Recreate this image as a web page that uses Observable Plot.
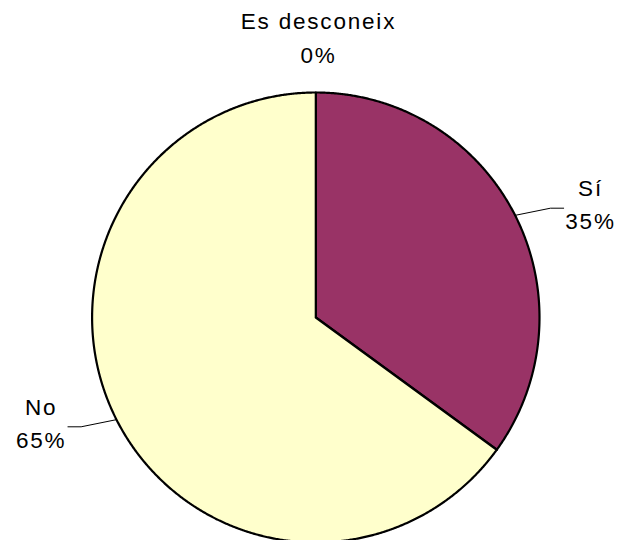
<!DOCTYPE html>
<html>
<head>
<meta charset="utf-8">
<script src="https://cdn.jsdelivr.net/npm/d3@7"></script>
<script src="https://cdn.jsdelivr.net/npm/@observablehq/plot@0.6"></script>
<style>
  html, body { margin: 0; padding: 0; background: #fff; }
</style>
</head>
<body>
<div id="chart"></div>
<script>
const categories = ["Sí", "No", "Es desconeix"];
const values = [35, 65, 0];
const percentLabels = ["35%", "65%", "0%"];
const colors = ["#993366", "#FFFFCC", "#CCFFFF"];

const W = 621, H = 540;
const cx = 315.3, cy = 317, rx = 223.7, ry = 225;

const arcs = d3.pie().sort(null).value(d => d)(values);

// wedge outlines
const wedgePts = [];
arcs.forEach((a, i) => {
  if (a.endAngle - a.startAngle <= 0) return;
  const cat = categories[i];
  wedgePts.push({cat, x: 0, y: 0});
  const n = Math.max(2, Math.ceil((a.endAngle - a.startAngle) / 0.005));
  for (let k = 0; k <= n; k++) {
    const t = a.startAngle + (a.endAngle - a.startAngle) * k / n;
    wedgePts.push({cat, x: Math.sin(t), y: Math.cos(t)});
  }
  wedgePts.push({cat, x: 0, y: 0});
});

// labels and leader lines
const labels = [];
const leaders = [];
arcs.forEach((a, i) => {
  const mid = (a.startAngle + a.endAngle) / 2;
  const s = Math.sin(mid), c = Math.cos(mid);
  const text = categories[i] + "\n" + percentLabels[i];
  if (Math.abs(s) > 0.5) {
    const sign = Math.sign(s);
    const ey = 1.07 * c;
    leaders.push({id: i, x: s, y: c});
    leaders.push({id: i, x: sign * 1.049, y: ey});
    leaders.push({id: i, x: sign * 1.108, y: ey});
    labels.push({x: sign * 1.228, y: ey, text});
  } else {
    labels.push({x: 1.227 * s + 0.012, y: 1.227 * c, text});
  }
});

const chart = Plot.plot({
  width: W,
  height: H,
  margin: 0,
  x: {domain: [-cx / rx, (W - cx) / rx], axis: null},
  y: {domain: [-(H - cy) / ry, cy / ry], axis: null},
  color: {domain: categories, range: colors},
  style: {fontFamily: "'Liberation Sans', Arial, sans-serif", background: "#fff", overflow: "visible"},
  marks: [
    Plot.line(wedgePts, {x: "x", y: "y", z: "cat", fill: "cat", stroke: "black", strokeWidth: 2.2, strokeLinejoin: "round", curve: "linear"}),
    Plot.line(leaders, {x: "x", y: "y", z: "id", stroke: "black", strokeWidth: 1}),
    Plot.text(labels, {x: "x", y: "y", text: "text", fontSize: 22.5, lineHeight: 1.48, dy: -6, textAnchor: "middle", fill: "black"})
  ]
});
chart.querySelectorAll("text").forEach(t => t.style.letterSpacing = "1.8px");
document.getElementById("chart").appendChild(chart);
</script>
</body>
</html>
